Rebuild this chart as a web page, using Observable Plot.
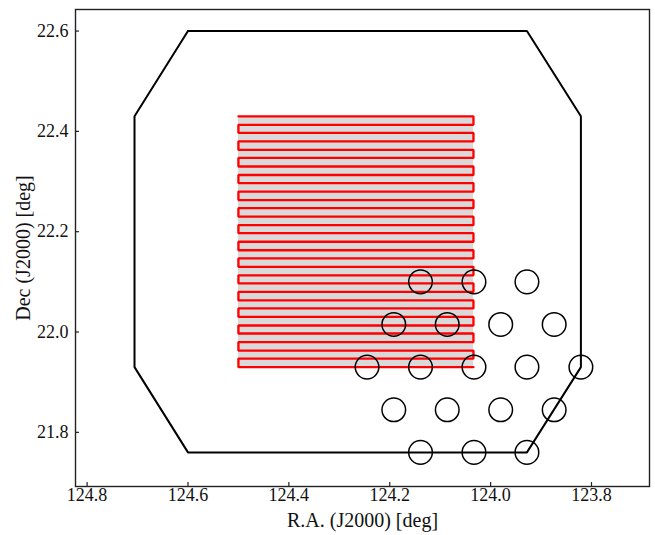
<!DOCTYPE html>
<html>
<head>
<meta charset="utf-8">
<script src="https://cdn.jsdelivr.net/npm/d3@7"></script>
<script src="https://cdn.jsdelivr.net/npm/@observablehq/plot@0.6"></script>
<style>
  html, body { margin: 0; padding: 0; background: white; }
</style>
</head>
<body>
<div id="chart"></div>
<script>
// Tick values
const xTicks = [124.8, 124.6, 124.4, 124.2, 124.0, 123.8];
const yTicks = [21.8, 22.0, 22.2, 22.4, 22.6];

// Field-of-view octagon (R.A., Dec) vertices
const octRA  = [124.600, 123.928, 123.821, 123.821, 123.928, 124.600, 124.706, 124.706, 124.600];
const octDec = [22.600, 22.600, 22.430, 21.930, 21.760, 21.760, 21.930, 22.430, 22.600];

// Raster scan: R.A. extent and scan-line declinations (top to bottom)
const rasterRA = [124.500, 124.034];
const rasterDec = [22.430, 22.413, 22.397, 22.380, 22.363, 22.347, 22.330, 22.313, 22.297, 22.280,
                   22.263, 22.247, 22.230, 22.213, 22.197, 22.180, 22.163, 22.147, 22.130, 22.113,
                   22.097, 22.080, 22.063, 22.047, 22.030, 22.013, 21.997, 21.980, 21.963, 21.947,
                   21.930];

// Pointing circles
const circRA  = [124.139, 124.033, 123.928,
                 124.192, 124.086, 123.980, 123.874,
                 124.245, 124.139, 124.033, 123.928, 123.821,
                 124.192, 124.086, 123.980, 123.874,
                 124.139, 124.033, 123.928];
const circDec = [22.100, 22.100, 22.100,
                 22.015, 22.015, 22.015, 22.015,
                 21.930, 21.930, 21.930, 21.930, 21.930,
                 21.845, 21.845, 21.845, 21.845,
                 21.760, 21.760, 21.760];

const xLabel = "R.A. (J2000) [deg]";
const yLabel = "Dec (J2000) [deg]";

// Build tables
const octagon = octRA.map((ra, i) => ({ra, dec: octDec[i]}));
const raster = [];
rasterDec.forEach((dec, i) => {
  const [a, b] = i % 2 === 0 ? [rasterRA[0], rasterRA[1]] : [rasterRA[1], rasterRA[0]];
  raster.push({ra: a, dec}, {ra: b, dec});
});
const circles = circRA.map((ra, i) => ({ra, dec: circDec[i]}));

const W = 655, H = 535;
const mL = 75, mR = 6, mT = 9, mB = 49;
const plotW = W - mL - mR, plotH = H - mT - mB;
const fmt = d3.format(".1f");

const chart = Plot.plot({
  width: W,
  height: H,
  marginLeft: mL,
  marginRight: mR,
  marginTop: mT,
  marginBottom: mB,
  style: {fontFamily: "Liberation Serif", fontSize: "18px", background: "white", color: "black"},
  x: {domain: [124.823, 123.685], axis: null},
  y: {domain: [21.692, 22.643], axis: null},
  marks: [
    Plot.rect([{}], {x1: rasterRA[0], x2: rasterRA[1], y1: rasterDec[rasterDec.length - 1], y2: rasterDec[0], fill: "#d9d9d9"}),
    Plot.line(raster, {x: "ra", y: "dec", stroke: "red", strokeWidth: 2.3, strokeLinejoin: "miter"}),
    Plot.line(octagon, {x: "ra", y: "dec", stroke: "black", strokeWidth: 2}),
    Plot.dot(circles, {x: "ra", y: "dec", r: 11.8, stroke: "black", strokeWidth: 1.5, fill: "none"}),
    Plot.tickX(xTicks, {x: d => d, insetTop: plotH - 4, stroke: "#222", strokeWidth: 1.2}),
    Plot.tickY(yTicks, {y: d => d, insetRight: plotW - 4, stroke: "#222", strokeWidth: 1.2}),
    Plot.frame({stroke: "#222", strokeWidth: 1.4}),
    Plot.text(xTicks, {x: d => d, frameAnchor: "bottom", lineAnchor: "top", dy: 2, text: d => fmt(d), fontSize: 18, fill: "#111"}),
    Plot.text(yTicks, {y: d => d, frameAnchor: "left", textAnchor: "end", dx: -7, text: d => fmt(d), fontSize: 18, fill: "#111"}),
    Plot.text([xLabel], {frameAnchor: "bottom", dy: 34, fontSize: 20, text: d => d, textAnchor: "middle", lineAnchor: "middle", fill: "#111"}),
    Plot.text([yLabel], {frameAnchor: "left", dx: -52, fontSize: 20, rotate: -90, text: d => d, textAnchor: "middle", lineAnchor: "middle", fill: "#111"})
  ]
});
document.getElementById("chart").appendChild(chart);
</script>
</body>
</html>
